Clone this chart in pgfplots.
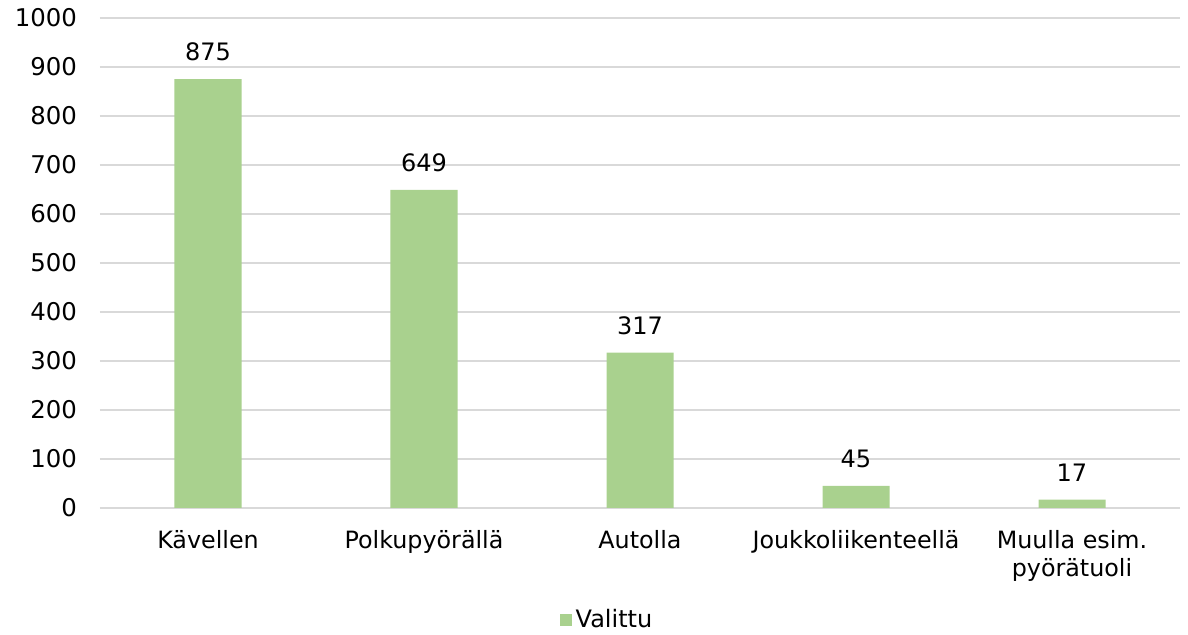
\documentclass[border=0pt]{standalone}
\usepackage{pgfplots}
\pgfplotsset{compat=1.18}
\usepackage{fontspec}
\setmainfont{DejaVu Sans}
\definecolor{bargreen}{HTML}{A9D18E}
\definecolor{gridgray}{HTML}{D9D9D9}
\begin{document}
\begin{tikzpicture}
\useasboundingbox (-50pt,-63.5pt) rectangle (544pt,254pt);
\begin{axis}[
  at={(0,0)}, anchor=south west,
  scale only axis, width=540pt, height=245pt,
  xmin=-0.5, xmax=4.5, ymin=0, ymax=1000,
  ytick={0,100,...,1000},
  xtick=data,
  xticklabels={Kävellen,Polkupyörällä,Autolla,Joukkoliikenteellä,{Muulla esim.\\pyörätuoli}},
  xticklabel style={align=center, font=\fontsize{11.9}{14}\selectfont, yshift=-7.5pt},
  yticklabel style={font=\fontsize{12.2}{14}\selectfont, xshift=-8pt},
  /pgf/number format/assume math mode=true,
  /pgf/number format/1000 sep={},
  axis line style={draw=none},
  major tick length=0pt,
  ymajorgrids, grid style={gridgray, line width=0.6pt},
  ybar, bar width=33.5pt,
  nodes near coords,
  every node near coord/.append style={font=\fontsize{12}{14}\selectfont, yshift=5.5pt, black},
  legend style={draw=none, at={(254pt,-56pt)}, anchor=center, font=\fontsize{12}{14}\selectfont, legend cell align=left},
  legend image code/.code={\fill[bargreen] (0pt,-3pt) rectangle (6pt,3pt);},
  clip=false,
]
\addplot[fill=bargreen, draw=none] coordinates {(0,875) (1,649) (2,317) (3,45) (4,17)};
\addlegendentry{Valittu}
\end{axis}
\end{tikzpicture}
\end{document}
